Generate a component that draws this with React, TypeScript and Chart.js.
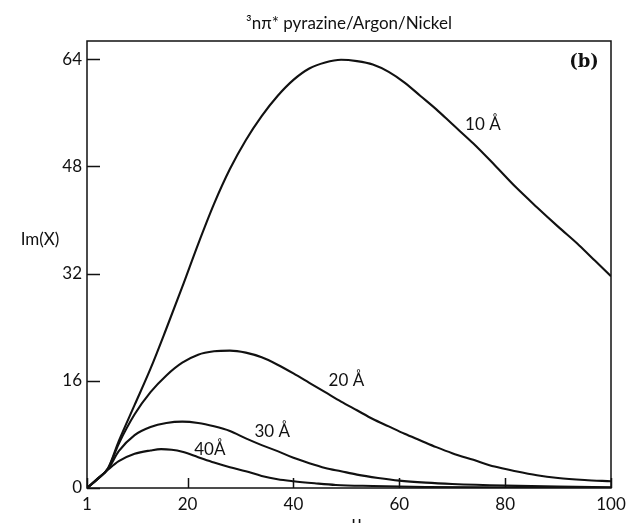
import React, { useEffect, useRef } from "react";
import { Chart, registerables } from "chart.js";

Chart.register(...registerables);

const TITLE = "³nπ* pyrazine/Argon/Nickel";
const Y_LABEL = "Im(X)";
const X_LABEL = "μ";
const PANEL = "(b)";

const X_TICKS = [1, 20, 40, 60, 80, 100];
const Y_TICKS = [0, 16, 32, 48, 64];
const X_MIN = 1;
const X_MAX = 100;
const Y_MIN = 0;
const Y_MAX = 66.7;

// 10 Å
const MU_10 = [1, 3, 5, 7, 10, 13, 16, 19, 22, 25, 28, 31, 34, 37, 40, 43, 46, 49, 52, 55, 58, 61, 64, 67, 70, 74, 78, 82, 86, 90, 94, 97, 100];
const IM_10 = [0, 1.4, 3.0, 7.0, 12.4, 17.8, 23.8, 30.0, 36.4, 42.4, 47.6, 51.9, 55.5, 58.5, 60.9, 62.6, 63.5, 63.9, 63.7, 63.2, 62.1, 60.5, 58.5, 56.5, 54.3, 51.4, 48.2, 44.9, 41.9, 39.0, 36.2, 33.9, 31.6];
// 20 Å
const MU_20 = [1, 3, 5, 7, 10, 13, 16, 19, 22, 25, 28, 31, 34, 37, 40, 43, 46, 49, 52, 55, 58, 61, 64, 67, 70, 74, 78, 82, 86, 90, 95, 100];
const IM_20 = [0, 1.38, 2.95, 6.6, 11.0, 14.3, 16.8, 18.7, 19.9, 20.4, 20.5, 20.2, 19.5, 18.4, 17.1, 15.7, 14.3, 12.9, 11.6, 10.3, 9.2, 8.1, 7.1, 6.1, 5.2, 4.2, 3.2, 2.5, 1.9, 1.5, 1.2, 1.0];
// 30 Å
const MU_30 = [1, 3, 5, 7, 10, 13, 16, 19, 22, 25, 28, 31, 34, 37, 40, 43, 46, 49, 52, 56, 60, 65, 70, 80, 90, 100];
const IM_30 = [0, 1.35, 2.85, 5.5, 7.9, 9.1, 9.7, 9.9, 9.7, 9.2, 8.5, 7.4, 6.4, 5.5, 4.5, 3.7, 3.0, 2.5, 2.0, 1.5, 1.1, 0.8, 0.6, 0.35, 0.2, 0.1];
// 40 Å
const MU_40 = [1, 3, 5, 7, 10, 13, 15, 17, 19, 22, 25, 28, 31, 34, 37, 40, 44, 48, 55, 65, 80, 100];
const IM_40 = [0, 1.32, 2.75, 4.0, 5.1, 5.6, 5.8, 5.7, 5.4, 4.6, 3.8, 3.1, 2.5, 1.8, 1.3, 1.0, 0.7, 0.45, 0.3, 0.15, 0.08, 0.04];

const CURVE_LABELS = ["10 Å", "20 Å", "30 Å", "40Å"];
const LABEL_MU = [75.8, 50.0, 36.0, 24.2];
const LABEL_IM = [54.3, 16.0, 8.4, 5.7];

const FONT = "Lato, 'DejaVu Sans', sans-serif";
const INK = "#111";

const toPoints = (xs: number[], ys: number[]) => xs.map((x, i) => ({ x, y: ys[i] }));

const decor = {
  id: "decor",
  afterDatasetsDraw(chart: any) {
    const { ctx, chartArea, scales } = chart;
    const xs = scales.x;
    const ys = scales.y;
    ctx.save();
    ctx.strokeStyle = INK;
    ctx.fillStyle = INK;
    ctx.lineWidth = 1.5;
    // frame
    ctx.strokeRect(chartArea.left, chartArea.top, chartArea.right - chartArea.left, chartArea.bottom - chartArea.top);
    // inward ticks
    ctx.beginPath();
    Y_TICKS.forEach((v) => {
      const py = Math.round(ys.getPixelForValue(v)) + 0.5;
      ctx.moveTo(chartArea.left, py);
      ctx.lineTo(chartArea.left + 13, py);
    });
    X_TICKS.forEach((v) => {
      const px = Math.round(xs.getPixelForValue(v)) + 0.5;
      ctx.moveTo(px, chartArea.bottom);
      ctx.lineTo(px, chartArea.bottom - 10);
    });
    ctx.stroke();
    // x tick labels
    ctx.font = `17px ${FONT}`;
    ctx.textAlign = "center";
    ctx.textBaseline = "middle";
    X_TICKS.forEach((v) => {
      ctx.fillText(String(v), xs.getPixelForValue(v), chartArea.bottom + 17);
    });
    // curve labels
    CURVE_LABELS.forEach((t, i) => {
      ctx.fillText(t, xs.getPixelForValue(LABEL_MU[i]), ys.getPixelForValue(LABEL_IM[i]));
    });
    // title
    ctx.font = `17px ${FONT}`;
    ctx.textBaseline = "alphabetic";
    ctx.fillText(TITLE, (chartArea.left + chartArea.right) / 2, 29);
    // y label
    ctx.font = `17px ${FONT}`;
    ctx.textBaseline = "middle";
    ctx.fillText(Y_LABEL, 40, 240);
    // x label (partly cut off at the bottom)
    ctx.font = `18px ${FONT}`;
    ctx.textBaseline = "alphabetic";
    ctx.fillText(X_LABEL, 357, 528);
    // panel letter
    ctx.font = `bold 18px 'DejaVu Serif', 'Liberation Serif', serif`;
    ctx.textAlign = "center";
    ctx.textBaseline = "middle";
    ctx.fillText(PANEL, 584, 62);
    ctx.restore();
  },
};

export default function App() {
  const ref = useRef<HTMLCanvasElement | null>(null);
  useEffect(() => {
    if (!ref.current) return;
    const line = (xs: number[], ys: number[]) => ({
      data: toPoints(xs, ys),
      borderColor: INK,
      borderWidth: 2.1,
      pointRadius: 0,
      fill: false,
      tension: 0.4,
      cubicInterpolationMode: "monotone" as const,
    });
    const chart = new Chart(ref.current, {
      type: "line",
      data: {
        datasets: [line(MU_10, IM_10), line(MU_20, IM_20), line(MU_30, IM_30), line(MU_40, IM_40)],
      },
      options: {
        responsive: false,
        animation: false,
        devicePixelRatio: 1,
        layout: { padding: { top: 41, right: 16, bottom: 0, left: 0 } },
        plugins: { legend: { display: false }, tooltip: { enabled: false }, title: { display: false } },
        scales: {
          x: {
            type: "linear",
            min: X_MIN,
            max: X_MAX,
            grid: { display: false, drawTicks: false },
            border: { display: false },
            afterBuildTicks: (s: any) => {
              s.ticks = X_TICKS.map((v) => ({ value: v }));
            },
            afterFit: (s: any) => {
              s.height = 35;
            },
            ticks: { display: false },
          },
          y: {
            type: "linear",
            min: Y_MIN,
            max: Y_MAX,
            grid: { display: false, drawTicks: false },
            border: { display: false },
            afterBuildTicks: (s: any) => {
              s.ticks = Y_TICKS.map((v) => ({ value: v }));
            },
            afterFit: (s: any) => {
              s.width = 87;
            },
            ticks: {
              padding: 5,
              color: INK,
              font: { family: FONT, size: 17 },
              callback: (v: any) => String(v),
            },
          },
        },
      },
      plugins: [decor],
    });
    return () => chart.destroy();
  }, []);
  return (
    <div style={{ position: "fixed", left: 0, top: 0, width: 627, height: 523, background: "#fff" }}>
      <canvas ref={ref} width={627} height={523} style={{ width: 627, height: 523, display: "block" }} />
    </div>
  );
}
